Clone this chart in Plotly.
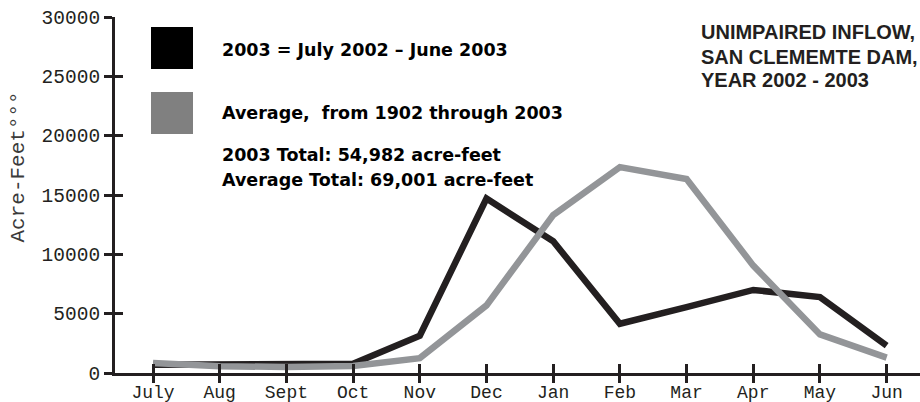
import plotly.graph_objects as go

# ---- data ----
months = ["July", "Aug", "Sept", "Oct", "Nov", "Dec", "Jan", "Feb", "Mar", "Apr", "May", "Jun"]
inflow_2003 = [700, 750, 700, 780, 3150, 14700, 11100, 4150, 5550, 7000, 6400, 2300]
inflow_avg = [840, 570, 510, 590, 1250, 5700, 13300, 17350, 16350, 9050, 3250, 1300]
y_ticks = [0, 5000, 10000, 15000, 20000, 25000, 30000]

legend_2003 = "2003 = July 2002 – June 2003"
legend_avg = "Average,&nbsp; from 1902 through 2003"
total_2003 = "2003 Total: 54,982 acre-feet"
total_avg = "Average Total: 69,001 acre-feet"
title_lines = ["UNIMPAIRED INFLOW,", "SAN CLEMEMTE DAM,", "YEAR 2002 - 2003"]
y_title = "Acre-Feet°°°"

x_idx = list(range(len(months)))

# ---- geometry helpers (pixel -> paper) ----
W, H = 920, 402
ML, MR, MT, MB = 115, 0, 17, 29
PW, PH = W - ML - MR, H - MT - MB


def px(x):
    return (x - ML) / PW


def py(y):
    return (H - MB - y) / PH


AX = "#231f20"
MONO = "Liberation Mono, Courier New, monospace"
SANS_B = "DejaVu Sans, Verdana, sans-serif"

fig = go.Figure()
fig.add_trace(go.Scatter(x=x_idx, y=inflow_2003, mode="lines",
                         line=dict(color="#231f20", width=6.5),
                         hoverinfo="skip", showlegend=False))
fig.add_trace(go.Scatter(x=x_idx, y=inflow_avg, mode="lines",
                         line=dict(color="#939598", width=6.5),
                         hoverinfo="skip", showlegend=False))
# empty trace to activate the overlay axes used for crossing ticks
fig.add_trace(go.Scatter(x=[], y=[], xaxis="x2", yaxis="y2",
                         hoverinfo="skip", showlegend=False))

axis_common = dict(showgrid=False, zeroline=False, automargin=False)

fig.update_layout(
    template="none",
    width=W, height=H,
    margin=dict(l=ML, r=MR, t=MT, b=MB, pad=0, autoexpand=False),
    paper_bgcolor="white", plot_bgcolor="white",
    showlegend=False,
    xaxis=dict(range=[-0.57, 11.5], tickmode="array", tickvals=x_idx, ticktext=months,
               ticks="inside", ticklen=9, tickwidth=3, tickcolor=AX,
               ticklabelstandoff=0,
               showline=True, linewidth=3, linecolor=AX,
               tickfont=dict(family=MONO, size=18, color=AX), **axis_common),
    yaxis=dict(range=[0, 30000], tickmode="array", tickvals=y_ticks,
               ticktext=[str(v) for v in y_ticks],
               ticks="outside", ticklen=8, tickwidth=3, tickcolor=AX,
               showline=True, linewidth=3, linecolor=AX,
               tickfont=dict(family=MONO, size=19.5, color=AX), **axis_common),
    xaxis2=dict(overlaying="x", matches="x", tickmode="array", tickvals=x_idx,
                ticks="outside", ticklen=9, tickwidth=3, tickcolor=AX,
                showticklabels=False, showline=False, **axis_common),
    yaxis2=dict(overlaying="y", matches="y", tickmode="array", tickvals=y_ticks,
                ticks="inside", ticklen=8, tickwidth=3, tickcolor=AX,
                showticklabels=False, showline=False, **axis_common),
)

# legend squares
fig.add_shape(type="rect", xref="paper", yref="paper",
              x0=px(151), x1=px(193), y0=py(69), y1=py(27),
              fillcolor="#000000", line=dict(width=0))
fig.add_shape(type="rect", xref="paper", yref="paper",
              x0=px(151), x1=px(193), y0=py(134), y1=py(92),
              fillcolor="#808080", line=dict(width=0))

legend_font = dict(family=SANS_B, size=17.5, color="#000000", weight="bold")
for txt, yc in [(legend_2003, 50), (legend_avg, 113), (total_2003, 155), (total_avg, 180)]:
    fig.add_annotation(xref="paper", yref="paper", x=px(220), y=py(yc),
                       xanchor="left", yanchor="middle", text=txt,
                       showarrow=False, font=legend_font)

title_font = dict(family="Liberation Sans, Arial, sans-serif", size=20, color=AX, weight="bold")
for txt, yc in zip(title_lines, [32.5, 56.5, 80.5]):
    fig.add_annotation(xref="paper", yref="paper", x=px(699), y=py(yc),
                       xanchor="left", yanchor="middle", text=txt,
                       showarrow=False, font=title_font)

fig.add_annotation(xref="paper", yref="paper", x=px(17.5), y=py(167),
                   xanchor="center", yanchor="middle", textangle=-90,
                   text=y_title, showarrow=False,
                   font=dict(family=MONO, size=21, color="#3a3a3a"))

fig.write_html("out.html",
               config={"displayModeBar": False, "staticPlot": True},
               post_script="document.body.style.margin='0';document.body.style.padding='0';"
                           "document.documentElement.style.overflow='hidden';")
